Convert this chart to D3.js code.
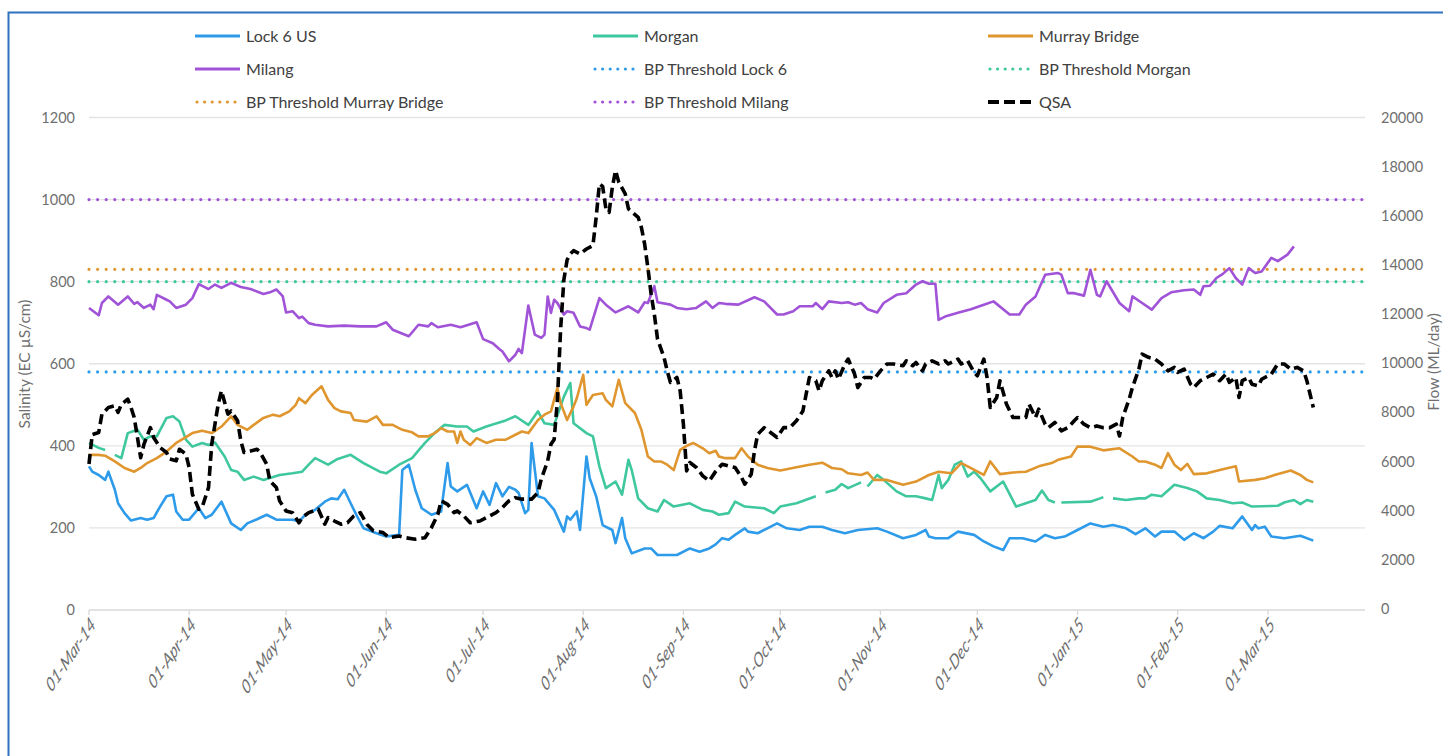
<!DOCTYPE html>
<html><head><meta charset="utf-8">
<script src="https://cdn.jsdelivr.net/npm/d3@7"></script>
<style>
body{margin:0;background:#fff;}
svg text{font-family:Lato,"Open Sans",sans-serif;}
</style>
</head><body>
<svg id="chart" width="1443" height="756"></svg>
<script>
// ---- DATA (days counted from 01-Mar-2014) ----
const startDate = "2014-03-01";
const endDate = "2015-03-31";

const lock6Days = [0,1,3,5,6,8,9,11,13,16,18,20,22,24,26,27,29,31,34,36,38,41,44,47,49,52,55,58,63,65,67,70,73,75,77,79,81,83,85,89,92,96,97,99,101,103,106,109,111,112,114,117,120,122,124,126,128,130,132,133,135,136,137,139,141,144,147,148,149,151,152,154,155,157,159,162,163,165,166,168,172,174,176,182,186,189,192,194,196,198,200,203,204,207,210,213,216,220,223,227,230,234,238,244,247,252,256,259,260,262,266,269,274,277,280,283,285,289,293,296,299,302,306,310,314,317,321,324,327,330,332,336,339,342,345,348,350,354,357,360,361,362,364,366,370,375,379];
const lock6Values = [350,337,329,317,337,293,260,236,218,224,220,224,252,277,281,240,220,220,248,224,232,264,211,195,211,221,232,220,220,216,232,244,264,272,270,293,260,228,199,187,179,183,341,354,293,248,232,240,358,301,289,305,248,289,256,309,277,300,293,285,236,244,407,277,272,244,191,228,220,240,195,374,321,277,207,195,163,224,175,138,150,150,134,134,150,142,150,160,175,171,183,199,191,187,199,211,199,195,203,203,195,187,195,199,191,175,183,195,179,175,175,191,183,167,155,146,175,175,167,183,175,179,195,211,203,207,199,185,199,179,191,191,171,187,175,191,205,199,228,195,207,199,203,179,175,181,169];

const morganDays = [0,3,5,6,8,10,12,15,17,19,21,24,26,28,30,32,35,37,39,42,44,46,48,51,54,59,63,66,68,70,74,77,81,85,90,92,96,100,104,107,110,114,117,119,123,127,129,132,136,139,141,144,147,149,150,154,156,158,160,163,165,167,168,170,173,176,178,181,186,190,193,195,198,200,203,209,212,214,219,225,226,228,231,233,235,239,240,241,244,246,250,253,256,259,261,263,264,266,268,270,272,274,276,279,283,287,290,293,295,297,299,300,301,310,313,314,315,317,321,325,327,329,332,336,340,343,346,350,354,357,360,368,370,373,375,377,379];
const morganValues = [407,395,390,null,378,370,431,439,415,423,423,468,472,459,415,398,407,402,408,374,341,337,317,325,317,329,333,337,354,370,354,368,378,358,337,333,354,370,407,431,451,447,447,435,447,457,462,472,451,484,455,451,520,553,455,431,423,350,297,313,281,366,341,272,248,240,268,252,260,244,240,232,236,264,252,248,236,252,260,277,null,286,293,307,297,311,null,301,329,317,289,277,277,272,268,329,297,317,354,362,325,337,321,289,313,252,260,268,291,268,262,null,262,264,272,275,null,272,268,272,272,281,277,305,297,289,272,268,260,262,252,254,262,268,258,268,264];

const murrayDays = [0,3,5,8,11,14,16,18,21,24,27,30,32,35,38,41,44,46,49,51,54,57,59,62,64,65,67,69,72,74,76,78,81,82,86,89,91,94,97,100,102,105,107,109,111,113,114,115,116,118,120,123,126,129,132,134,136,139,141,143,145,146,148,150,151,153,154,156,159,160,162,164,166,169,171,173,175,177,179,181,183,185,187,190,192,194,195,197,200,202,204,207,210,214,219,223,227,230,233,235,239,241,243,247,252,256,260,263,267,270,272,277,279,282,286,290,294,298,300,304,306,310,314,319,323,325,327,330,332,334,336,338,340,342,346,351,355,356,361,364,367,372,375,377,379];
const murrayValues = [378,378,376,362,346,337,346,358,370,386,407,421,431,437,431,447,472,451,439,451,468,476,472,484,500,516,504,524,545,512,492,484,480,463,459,472,451,451,439,433,423,423,431,443,435,435,407,435,415,402,419,407,415,415,427,435,431,463,476,484,541,504,463,496,516,573,500,524,528,512,496,561,504,480,439,374,362,362,354,341,390,400,407,394,382,388,374,370,370,394,374,354,346,340,348,354,359,346,343,333,329,335,317,317,305,313,329,337,333,358,350,329,362,331,335,337,350,358,366,374,398,398,389,394,374,362,362,354,346,382,354,341,356,331,333,343,350,313,317,321,329,340,329,317,311];

const milangDays = [0,3,4,6,9,12,14,15,17,19,20,21,24,25,27,30,32,34,37,39,41,44,47,50,54,56,58,60,61,63,65,66,68,70,74,79,84,89,92,94,99,102,105,106,108,112,115,120,122,125,127,128,130,132,133,134,136,138,140,141,142,143,144,145,147,148,150,152,154,155,158,160,163,167,170,172,173,175,176,180,182,185,188,191,193,195,197,201,206,209,213,215,218,220,224,225,227,229,233,235,237,239,241,244,246,250,253,256,258,260,262,263,265,269,273,277,280,285,288,290,293,296,300,301,303,305,308,310,312,313,315,319,322,323,326,329,332,335,339,342,344,345,347,349,351,353,355,357,359,361,363,366,368,371,373];
const milangValues = [736,718,748,764,744,764,746,750,736,744,733,768,756,752,736,744,760,794,782,793,785,797,787,782,770,774,781,764,725,728,711,715,699,695,691,693,691,691,701,683,667,695,691,699,689,695,689,701,660,650,636,630,606,622,636,626,742,671,663,671,764,724,756,748,720,728,724,691,687,683,760,744,725,740,725,750,748,789,750,744,736,733,736,752,736,748,746,744,762,752,720,720,728,740,740,748,733,752,748,750,744,748,733,725,748,768,772,793,801,795,795,707,715,724,733,744,752,720,720,744,764,817,821,817,772,772,766,829,768,764,801,748,728,764,748,732,760,774,779,781,768,789,790,809,819,833,809,793,833,821,825,858,850,866,886];

const qsaDays = [0,1,3,4,6,8,9,10,12,13,14,15,16,17,19,20,22,24,25,27,28,30,31,32,34,35,37,38,40,41,43,44,46,47,48,50,52,53,55,56,58,59,61,63,65,66,68,71,73,74,76,78,80,82,84,86,88,91,93,96,98,101,104,106,108,109,111,113,114,116,118,121,123,126,128,130,132,134,137,139,140,142,143,144,145,146,147,148,149,150,152,154,156,157,158,159,160,161,162,163,164,166,167,170,171,172,173,174,175,176,178,179,180,182,183,184,185,186,188,190,192,194,196,198,200,202,203,205,206,207,209,211,213,215,217,219,221,222,223,225,226,227,229,230,231,232,234,235,237,238,240,242,243,245,247,249,252,253,255,256,258,259,261,263,265,266,269,270,272,274,275,277,278,279,281,282,284,286,288,290,291,293,294,296,297,299,301,303,305,306,308,310,312,314,316,318,319,320,322,323,325,326,328,330,332,334,336,337,339,341,342,344,346,348,350,352,353,355,356,357,359,360,362,363,366,368,370,372,374,376,377,378,379];
const qsaValues = [5900,7100,7180,7930,8200,8270,8000,8330,8540,8200,7790,6980,6160,6700,7380,6980,6570,6370,6100,6030,6500,6300,5760,4670,4060,4130,4940,6710,8340,8880,7930,8060,7660,6840,6370,6430,6500,6370,5890,5210,4940,4400,3990,3920,3510,3720,3920,4060,3450,3720,3580,3450,3510,3790,3920,3450,3180,3110,2900,2970,2900,2840,2900,3310,3850,4400,4260,3920,3990,3790,3510,3580,3720,3920,4130,4400,4530,4470,4470,4740,5280,6030,6700,6900,8500,11400,13400,14200,14450,14580,14450,14650,14790,15940,17300,17200,16300,16140,17160,17840,17370,16890,16280,15940,15530,14850,13900,12820,12000,10980,10240,9690,9220,9420,8880,7520,5620,5960,5760,5420,5210,5600,5890,5820,5760,5350,5080,5480,6430,7110,7380,7180,6980,7380,7380,7660,8060,8740,9420,9290,8880,9290,9690,9420,9690,9350,9970,10170,9560,9010,9420,9420,9350,9690,9970,9970,9900,10100,9900,10030,9690,9970,10100,9970,10100,9970,10170,9970,10100,9630,9490,10170,9420,8200,8610,9290,8340,7790,7790,7790,8340,7790,8130,7520,7380,7590,7250,7380,7660,7790,7520,7380,7450,7380,7380,7520,7040,7790,8540,9010,9760,10370,10240,10170,9970,9690,9830,9630,9760,9150,9010,9290,9420,9560,9290,9560,9220,9420,8610,9290,9420,9150,9080,9350,9560,9970,9970,9760,9830,9690,9290,8740,8200];

const thresholdNames = ["BP Threshold Lock 6","BP Threshold Morgan","BP Threshold Murray Bridge","BP Threshold Milang"];
const thresholdValues = [580,800,830,1000];

const salinityTicks = [0,200,400,600,800,1000,1200];
const flowTicks = [0,2000,4000,6000,8000,10000,12000,14000,16000,18000,20000];

const legendLabels = ["Lock 6 US","Morgan","Murray Bridge","Milang","BP Threshold Lock 6","BP Threshold Morgan","BP Threshold Murray Bridge","BP Threshold Milang","QSA"];

// ---- STYLE ----
const C = {blue:"#2E9BEA", teal:"#3FC79E", orange:"#E0962F", purple:"#A153D8", black:"#000"};
const DOT = "0 8.6", DASH = "10 5";

const svg = d3.select("#chart");
svg.append("rect").attr("width",1443).attr("height",756).attr("fill","#fff");
svg.append("rect").attr("x",8.5).attr("y",12.5).attr("width",1500).attr("height",800)
  .attr("fill","none").attr("stroke","#2F72BE").attr("stroke-width",2);

const parse = d3.timeParse("%Y-%m-%d");
const t0 = parse(startDate), t1 = parse(endDate);
const dayToDate = d => d3.timeDay.offset(t0, d);

const x = d3.scaleTime().domain([t0,t1]).range([89,1365]);
const yL = d3.scaleLinear().domain([0,1200]).range([610,117.5]);
const yR = d3.scaleLinear().domain([0,20000]).range([609,117.5]);

// grid
svg.append("g").selectAll("line").data(salinityTicks).join("line")
  .attr("x1",89).attr("x2",1365).attr("y1",d=>yL(d)).attr("y2",d=>yL(d))
  .attr("stroke",d=>d===0?"#d9d9d9":"#e4e4e4").attr("stroke-width",1.3);

// x axis ticks & labels
const months = d3.timeMonth.range(t0, d3.timeDay.offset(t1,1));
const xa = svg.append("g");
xa.selectAll("line").data(months).join("line")
  .attr("x1",d=>x(d)).attr("x2",d=>x(d)).attr("y1",610).attr("y2",615)
  .attr("stroke","#d9d9d9").attr("stroke-width",1.3);
const fmt = d3.timeFormat("%d-%b-%y");
xa.selectAll("text").data(months).join("text")
  .attr("transform",d=>`translate(${x(d)+4},${621}) scale(1,1.5) rotate(-45)`)
  .attr("text-anchor","end").attr("dy","0.35em")
  .attr("font-size",13.5).attr("font-style","italic").attr("fill","#6f6f6f")
  .text(d=>fmt(d));

// left labels
svg.append("g").selectAll("text").data(salinityTicks).join("text")
  .attr("x",75).attr("y",d=>yL(d)).attr("dy","0.35em").attr("text-anchor","end")
  .attr("font-size",14.5).attr("fill","#6f6f6f").text(d=>d);
// right labels
svg.append("g").selectAll("text").data(flowTicks).join("text")
  .attr("x",1381).attr("y",d=>yR(d)).attr("dy","0.35em").attr("text-anchor","start")
  .attr("font-size",14.5).attr("fill","#6f6f6f").text(d=>d);

svg.append("text").attr("transform","translate(30,364) rotate(-90)").attr("text-anchor","middle")
  .attr("font-size",15.5).attr("fill","#6f6f6f").text("Salinity (EC µS/cm)");
svg.append("text").attr("transform","translate(1438.5,362) rotate(-90)").attr("text-anchor","middle")
  .attr("font-size",15.5).attr("fill","#6f6f6f").text("Flow (ML/day)");

// thresholds
const thrColors = [C.blue,C.teal,C.orange,C.purple];
svg.append("g").selectAll("line").data(thresholdValues).join("line")
  .attr("x1",89).attr("x2",1365).attr("y1",d=>yL(d)).attr("y2",d=>yL(d))
  .attr("stroke",(d,i)=>thrColors[i]).attr("stroke-width",3.2)
  .attr("stroke-dasharray",DOT).attr("stroke-linecap","round");

function series(days, vals, y, color, dash, width){
  const data = days.map((d,i)=>({t:dayToDate(d), v:vals[i]}));
  const line = d3.line().defined(d=>d.v!==null).x(d=>x(d.t)).y(d=>y(d.v));
  svg.append("path").datum(data).attr("d",line).attr("fill","none")
    .attr("stroke",color).attr("stroke-width",width).attr("stroke-linejoin","round")
    .attr("stroke-dasharray",dash||null);
}
series(lock6Days, lock6Values, yL, C.blue, null, 2.6);
series(morganDays, morganValues, yL, C.teal, null, 2.6);
series(murrayDays, murrayValues, yL, C.orange, null, 2.6);
series(milangDays, milangValues, yL, C.purple, null, 2.6);
series(qsaDays, qsaValues, yR, C.black, DASH, 3.6);

// legend
const legendStyles = [
  {c:C.blue,k:"solid"},{c:C.teal,k:"solid"},{c:C.orange,k:"solid"},
  {c:C.purple,k:"solid"},{c:C.blue,k:"dot"},{c:C.teal,k:"dot"},
  {c:C.orange,k:"dot"},{c:C.purple,k:"dot"},{c:C.black,k:"dash"}];
const colX = [195,593,988], rowY = [36,69,102];
const lg = svg.append("g");
legendLabels.forEach((lab,i)=>{
  const cx = colX[i%3], cy = rowY[Math.floor(i/3)];
  const s = legendStyles[i];
  const l = lg.append("line").attr("x1",cx+ (s.k==="dot"?2:0)).attr("x2",cx+45).attr("y1",cy).attr("y2",cy)
    .attr("stroke",s.c);
  if(s.k==="solid") l.attr("stroke-width",3);
  if(s.k==="dot") l.attr("stroke-width",3.2).attr("stroke-dasharray","0 7.6").attr("stroke-linecap","round");
  if(s.k==="dash") l.attr("stroke-width",4).attr("stroke-dasharray","11 5");
  lg.append("text").attr("x",cx+51).attr("y",cy).attr("dy","0.35em")
    .attr("font-size",16).attr("fill","#404040").text(lab);
});
</script>
</body></html>
